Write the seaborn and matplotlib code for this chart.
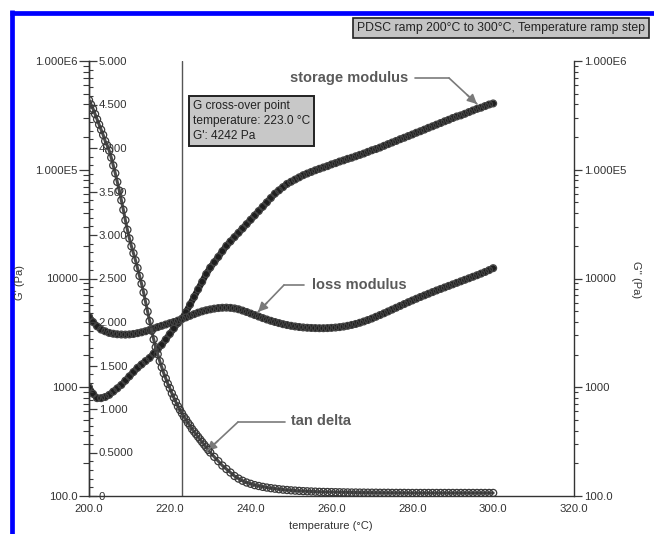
import numpy as np
import pandas as pd
import matplotlib
matplotlib.use("Agg")
import matplotlib.pyplot as plt
from matplotlib.lines import Line2D
from matplotlib.ticker import FixedLocator, MultipleLocator, LogLocator, NullFormatter
import seaborn as sns

# ---------------- data ----------------
temp = list(range(200, 301))

storage_modulus = [
    1000, 871, 794, 794, 813, 851, 912, 977, 1050, 1150,
    1260, 1380, 1510, 1620, 1740, 1860, 2040, 2240, 2450, 2750,
    3090, 3470, 3890, 4270, 4900, 5750, 6760, 7940, 9330, 11000,
    12600, 14100, 15800, 17800, 20000, 21900, 24000, 26300, 28800, 31600,
    34700, 38000, 41700, 45700, 50100, 55000, 60300, 64600, 69200, 74100,
    77600, 81300, 85100, 89100, 92300, 95500, 98900, 102000, 105000, 108000,
    112000, 115000, 119000, 122000, 126000, 129000, 133000, 137000, 141000, 146000,
    151000, 155000, 160000, 166000, 172000, 178000, 184000, 191000, 197000, 204000,
    211000, 219000, 226000, 234000, 243000, 251000, 260000, 269000, 279000, 288000,
    299000, 309000, 316000, 327000, 339000, 351000, 363000, 372000, 385000, 398000,
    407000,
]

loss_modulus = [
    4470, 3980, 3630, 3390, 3270, 3160, 3105, 3070, 3055, 3048,
    3062, 3090, 3141, 3199, 3273, 3365, 3467, 3573, 3673, 3776,
    3882, 3981, 4102, 4236, 4385, 4539, 4699, 4853, 4989, 5105,
    5200, 5284, 5346, 5383, 5395, 5370, 5309, 5212, 5070, 4920,
    4764, 4613, 4467, 4325, 4198, 4083, 3981, 3890, 3802, 3733,
    3673, 3622, 3581, 3548, 3524, 3508, 3499, 3491, 3491, 3499,
    3516, 3540, 3573, 3614, 3673, 3741, 3819, 3917, 4027, 4150,
    4285, 4446, 4613, 4786, 4977, 5176, 5383, 5598, 5821, 6053,
    6281, 6516, 6761, 6998, 7244, 7499, 7762, 8017, 8279, 8551,
    8831, 9120, 9419, 9727, 10046, 10375, 10715, 11092, 11482, 11940,
    12445,
]

tan_temp = [200 + 0.5 * i for i in range(61)] + list(range(231, 301))
tan_delta = [
    4.55, 4.50, 4.45, 4.39, 4.33, 4.27, 4.21, 4.15, 4.08, 4.03,
    3.97, 3.89, 3.80, 3.71, 3.61, 3.51, 3.40, 3.29, 3.17, 3.06,
    2.96, 2.87, 2.79, 2.71, 2.62, 2.53, 2.44, 2.34, 2.23, 2.12,
    2.01, 1.90, 1.80, 1.71, 1.63, 1.55, 1.48, 1.41, 1.35, 1.29,
    1.24, 1.18, 1.13, 1.08, 1.03, 0.99, 0.95, 0.91, 0.88, 0.84,
    0.81, 0.77, 0.74, 0.71, 0.68, 0.65, 0.62, 0.59, 0.56, 0.53,
    0.50,
    0.45, 0.40, 0.35, 0.31, 0.27, 0.23, 0.20, 0.175, 0.155, 0.14,
    0.125, 0.115, 0.105, 0.097, 0.090, 0.084, 0.078, 0.073, 0.069, 0.065,
    0.062, 0.059, 0.056, 0.054, 0.052, 0.050, 0.048, 0.047, 0.046, 0.045,
    0.044, 0.043, 0.042, 0.041, 0.040, 0.040, 0.039, 0.039, 0.038, 0.038,
    0.038, 0.037, 0.037, 0.037, 0.036, 0.036, 0.036, 0.036, 0.035, 0.035,
    0.035, 0.035, 0.035, 0.035, 0.035, 0.035, 0.035, 0.035, 0.035, 0.035,
    0.035, 0.035, 0.035, 0.035, 0.035, 0.035, 0.035, 0.035, 0.035, 0.035,
]

crossover_temp = 223.0
x_ticks = [200, 220, 240, 260, 280, 300, 320]
x_tick_labels = ["200.0", "220.0", "240.0", "260.0", "280.0", "300.0", "320.0"]
g_ticks = [100, 1000, 10000, 100000, 1000000]
g_tick_labels = ["100.0", "1000", "10000", "1.000E5", "1.000E6"]
td_ticks = [0, 0.5, 1.0, 1.5, 2.0, 2.5, 3.0, 3.5, 4.0, 4.5, 5.0]
td_tick_labels = ["0", "0.5000", "1.000", "1.500", "2.000", "2.500",
                  "3.000", "3.500", "4.000", "4.500", "5.000"]

df_g = pd.DataFrame({"temp": temp, "storage": storage_modulus, "loss": loss_modulus})
df_td = pd.DataFrame({"temp": tan_temp, "tan_delta": tan_delta})

# ---------------- figure ----------------
sns.set_theme(style="white")
plt.rcParams["font.family"] = ["Liberation Sans", "DejaVu Sans"]

W, H = 654, 534
fig = plt.figure(figsize=(W / 100, H / 100), dpi=100)
fig.patch.set_facecolor("white")

def P(x, y):
    return (x / W, 1 - y / H)

ax_l, ax_r, ax_t, ax_b = 89, 574, 61, 496
ax = fig.add_axes([ax_l / W, 1 - ax_b / H, (ax_r - ax_l) / W, (ax_b - ax_t) / H])
ax.set_facecolor("white")
tick_col = "#3a3a3a"
lab_col = "#333333"
fs = 8.2

# G' (left, log)
ax.set_yscale("log")
ax.set_xlim(200, 320)
ax.set_ylim(100, 1e6)

band = "#1e1e1e"
sns.lineplot(data=df_g, x="temp", y="storage", ax=ax, color=band, linewidth=4.6, zorder=3)
sns.scatterplot(data=df_g, x="temp", y="storage", ax=ax, marker="o", s=24,
                facecolor="none", edgecolor="#444444", linewidth=0.9, zorder=4)

# G'' (right, log)
ax2 = ax.twinx()
ax2.set_yscale("log")
ax2.set_ylim(100, 1e6)
sns.lineplot(data=df_g, x="temp", y="loss", ax=ax2, color=band, linewidth=4.6, zorder=3)
sns.scatterplot(data=df_g, x="temp", y="loss", ax=ax2, marker="o", s=24,
                facecolor="none", edgecolor="#444444", linewidth=0.9, zorder=4)

# tan delta (linear, spine on left, labels to the right)
ax3 = ax.twinx()
ax3.set_ylim(0, 5)
ax3.spines["right"].set_position(("axes", 0))
sns.lineplot(data=df_td, x="temp", y="tan_delta", ax=ax3, color="#4a4a4a", linewidth=2.2, zorder=3)
sns.scatterplot(data=df_td, x="temp", y="tan_delta", ax=ax3, marker="o", s=26,
                facecolor="none", edgecolor="#3a3a3a", linewidth=0.9, zorder=4)

# crossover vertical line
ax.axvline(crossover_temp, color="#555555", linewidth=1.0, zorder=2)

for a in (ax, ax2, ax3):
    a.set_xlabel("")
    a.set_ylabel("")
    a.grid(False)
    for s in a.spines.values():
        s.set_visible(False)

ax.spines["left"].set_visible(True)
ax.spines["bottom"].set_visible(True)
ax2.spines["right"].set_visible(True)
ax3.spines["right"].set_visible(True)
for s in (ax.spines["left"], ax.spines["bottom"], ax2.spines["right"], ax3.spines["right"]):
    s.set_color("#333333")
    s.set_linewidth(1.0)

# x axis
ax.xaxis.set_major_locator(FixedLocator(x_ticks))
ax.set_xticklabels(x_tick_labels)
ax.xaxis.set_minor_locator(MultipleLocator(2))
ax.tick_params(axis="x", which="major", direction="inout", length=7, width=0.9,
               color=tick_col, labelsize=fs, labelcolor=lab_col, pad=2)
ax.tick_params(axis="x", which="minor", direction="inout", length=4, width=0.8, color=tick_col)

# left log axis
ax.yaxis.set_major_locator(FixedLocator(g_ticks))
ax.set_yticklabels(g_tick_labels)
ax.yaxis.set_minor_locator(LogLocator(base=10, subs=np.arange(2, 10)))
ax.yaxis.set_minor_formatter(NullFormatter())
ax.tick_params(axis="y", which="major", direction="out", length=7, width=0.9,
               color=tick_col, labelsize=fs, labelcolor=lab_col, pad=1)
ax.tick_params(axis="y", which="minor", direction="out", length=4, width=0.8, color=tick_col)

# right log axis
ax2.yaxis.set_major_locator(FixedLocator(g_ticks))
ax2.set_yticklabels(g_tick_labels)
ax2.yaxis.set_minor_locator(LogLocator(base=10, subs=np.arange(2, 10)))
ax2.yaxis.set_minor_formatter(NullFormatter())
ax2.tick_params(axis="y", which="major", direction="out", length=6, width=0.9,
                color=tick_col, labelsize=fs, labelcolor=lab_col, pad=1)
ax2.tick_params(axis="y", which="minor", direction="out", length=3, width=0.8, color=tick_col)

# tan delta axis
ax3.yaxis.set_major_locator(FixedLocator(td_ticks))
ax3.set_yticklabels(td_tick_labels)
ax3.yaxis.set_minor_locator(MultipleLocator(0.1))
ax3.tick_params(axis="y", which="major", direction="out", length=6, width=0.9,
                color=tick_col, labelsize=fs, labelcolor=lab_col, pad=1)
ax3.tick_params(axis="y", which="minor", direction="out", length=3, width=0.8, color=tick_col)

# axis labels
fig.text(*P(20, 283), "G' (Pa)", rotation=90, ha="center", va="center", fontsize=8, color=lab_col)
fig.text(*P(636, 280), "G'' (Pa)", rotation=270, ha="center", va="center", fontsize=8, color=lab_col)
fig.text(*P(331, 526), "temperature (°C)", ha="center", va="center", fontsize=8, color=lab_col)

# title box
fig.text(*P(357, 28), "PDSC ramp 200°C to 300°C, Temperature ramp step", ha="left", va="center",
         fontsize=8.8, color="#222222",
         bbox=dict(boxstyle="square,pad=0.3", facecolor="#c4c4c4", edgecolor="#222222", linewidth=1.2))

# crossover info box
fig.text(*P(193, 121), "G cross-over point\ntemperature: 223.0 °C\nG': 4242 Pa", ha="left", va="center",
         fontsize=8.6, color="#222222", linespacing=1.3,
         bbox=dict(boxstyle="square,pad=0.35", facecolor="#c8c8c8", edgecolor="#222222", linewidth=1.4))

# curve labels with leader arrows
lab_kw = dict(fontsize=10.5, fontweight="bold", color="#5a5a5a", va="center")
fig.text(*P(290, 78), "storage modulus", ha="left", **lab_kw)
fig.text(*P(312, 285), "loss modulus", ha="left", **lab_kw)
fig.text(*P(291, 421), "tan delta", ha="left", **lab_kw)

lead_col = "#7a7a7a"
def leader(xs, ys, tip):
    fig.add_artist(Line2D([xs[0] / W, xs[1] / W], [1 - ys[0] / H, 1 - ys[1] / H],
                          color=lead_col, linewidth=1.2))
    fig.add_artist(Line2D([xs[1] / W, tip[0] / W], [1 - ys[1] / H, 1 - tip[1] / H],
                          color=lead_col, linewidth=1.2))
    ax.annotate("", xy=P(*tip), xycoords="figure fraction",
                xytext=P(tip[0] + (xs[1] - tip[0]) * 0.35, tip[1] + (ys[1] - tip[1]) * 0.35),
                textcoords="figure fraction",
                arrowprops=dict(arrowstyle="-|>", color=lead_col, linewidth=1.2, mutation_scale=14,
                                shrinkA=0, shrinkB=0))

leader([415, 449], [78, 78], (477, 104))
leader([304, 284], [285, 285], (258, 312))
leader([285, 238], [422, 422], (207, 451))

# blue frame
fig.add_artist(Line2D([11.5 / W, 11.5 / W], [1 - 10 / H, 0], color="#0000ff", linewidth=3.4,
                      solid_capstyle="butt"))
fig.add_artist(Line2D([10 / W, 1], [1 - 12.5 / H, 1 - 12.5 / H], color="#0000ff", linewidth=3.4,
                      solid_capstyle="butt"))

fig.savefig("out.png", dpi=100, facecolor="white")
